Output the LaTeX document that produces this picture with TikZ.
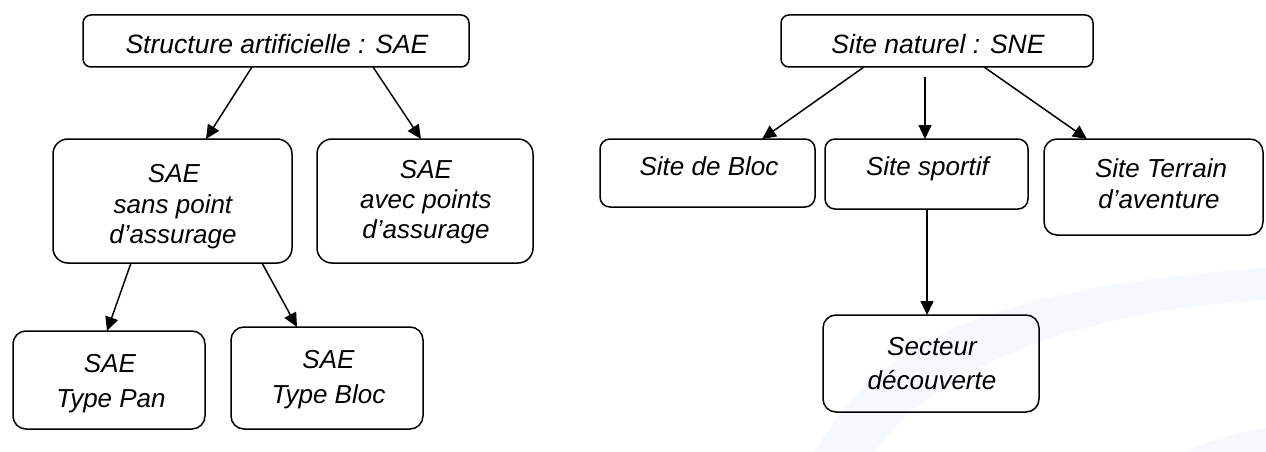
\documentclass[tikz,border=0pt]{standalone}
\usepackage{fontspec}
\setmainfont{Liberation Sans}
\usetikzlibrary{arrows.meta}
\definecolor{wm}{HTML}{F5F9FE}
\tikzset{
  box/.style={draw=black, line width=1.5pt, inner sep=0pt, outer sep=0pt},
  lbl/.style={anchor=base, inner sep=0pt, font=\fontsize{26}{30}\selectfont\itshape},
  toplbl/.style={anchor=base, inner sep=0pt, font=\fontsize{26.5}{30}\selectfont\itshape},
  arr/.style={line width=1.5pt, -{Triangle[length=14pt,width=13pt]}}
}
\begin{document}
\begin{tikzpicture}[x=1pt,y=-1pt]
\useasboundingbox (0,0) rectangle (1266,452);
% faint watermark
\fill[wm] (815,452) .. controls (880,330) and (1020,285) .. (1266,268)
  -- (1266,300) .. controls (1080,310) and (930,370) .. (875,452) -- cycle;
\fill[wm] (1185,452) .. controls (1210,440) and (1240,432) .. (1266,428) -- (1266,452) -- cycle;
% boxes
\node[box, rounded corners=8pt, minimum width=386pt, minimum height=52pt] (sae) at (276,41) {};
\node[box, rounded corners=15pt, minimum width=239pt, minimum height=124pt] (sans) at (172.5,201) {};
\node[box, rounded corners=15pt, minimum width=216pt, minimum height=124pt] (avec) at (425,201) {};
\node[box, rounded corners=13pt, minimum width=192pt, minimum height=98pt] (pan) at (109,380) {};
\node[box, rounded corners=13pt, minimum width=192pt, minimum height=102pt] (tbloc) at (327,378) {};
\node[box, rounded corners=8pt, minimum width=312pt, minimum height=52pt] (sne) at (937,41) {};
\node[box, rounded corners=10pt, minimum width=215pt, minimum height=68pt] (sbloc) at (707.5,173) {};
\node[box, rounded corners=10pt, minimum width=203pt, minimum height=70pt] (sport) at (926.5,174) {};
\node[box, rounded corners=13pt, minimum width=219pt, minimum height=96pt] (terrain) at (1153.5,187) {};
\node[box, rounded corners=13pt, minimum width=216pt, minimum height=97pt] (secteur) at (931,363.5) {};
% texts
\node[toplbl] (t-sae) at (277,53) {Structure artificielle : SAE};
\node[lbl] (t-sans1) at (174,182) {SAE};
\node[lbl] (t-sans2) at (173,213) {sans point};
\node[lbl] (t-sans3) at (173,243) {d’assurage};
\node[lbl] (t-avec1) at (426,178) {SAE};
\node[lbl] (t-avec2) at (426,208) {avec points};
\node[lbl] (t-avec3) at (426,238) {d’assurage};
\node[lbl] (t-pan1) at (110,372) {SAE};
\node[lbl] (t-pan2) at (111,407) {Type Pan};
\node[lbl] (t-bloc1) at (328.5,368) {SAE};
\node[lbl] (t-bloc2) at (328.5,403) {Type Bloc};
\node[toplbl] (t-sne) at (938,53) {Site naturel : SNE};
\node[lbl] (t-sbloc) at (709,175) {Site de Bloc};
\node[lbl] (t-sport) at (927.5,175) {Site sportif};
\node[lbl] (t-terr1) at (1161,177) {Site Terrain};
\node[lbl] (t-terr2) at (1159,208) {d’aventure};
\node[lbl] (t-sect1) at (932,355) {Secteur};
\node[lbl] (t-sect2) at (932,389) {découverte};
% connectors
\coordinate (sportin) at (925,77);
\coordinate (sportout) at ([xshift=0.5pt]sport.south);
\draw[arr] ([xshift=-24pt]sae.south) -- ([xshift=33.5pt]sans.north);
\draw[arr] ([xshift=97pt]sae.south) -- ([xshift=-4pt]avec.north);
\draw[arr] ([xshift=-41.5pt]sans.south) -- ([xshift=-2pt]pan.north);
\draw[arr] ([xshift=89.5pt]sans.south) -- ([xshift=-30pt]tbloc.north);
\draw[arr] ([xshift=-73pt]sne.south) -- ([xshift=54.5pt]sbloc.north);
\draw[arr] (sportin) -- (sportin |- sport.north);
\draw[arr] ([xshift=47pt]sne.south) -- ([xshift=-66.5pt]terrain.north);
\draw[arr] (sportout) -- (sportout |- secteur.north);
\end{tikzpicture}
\end{document}
